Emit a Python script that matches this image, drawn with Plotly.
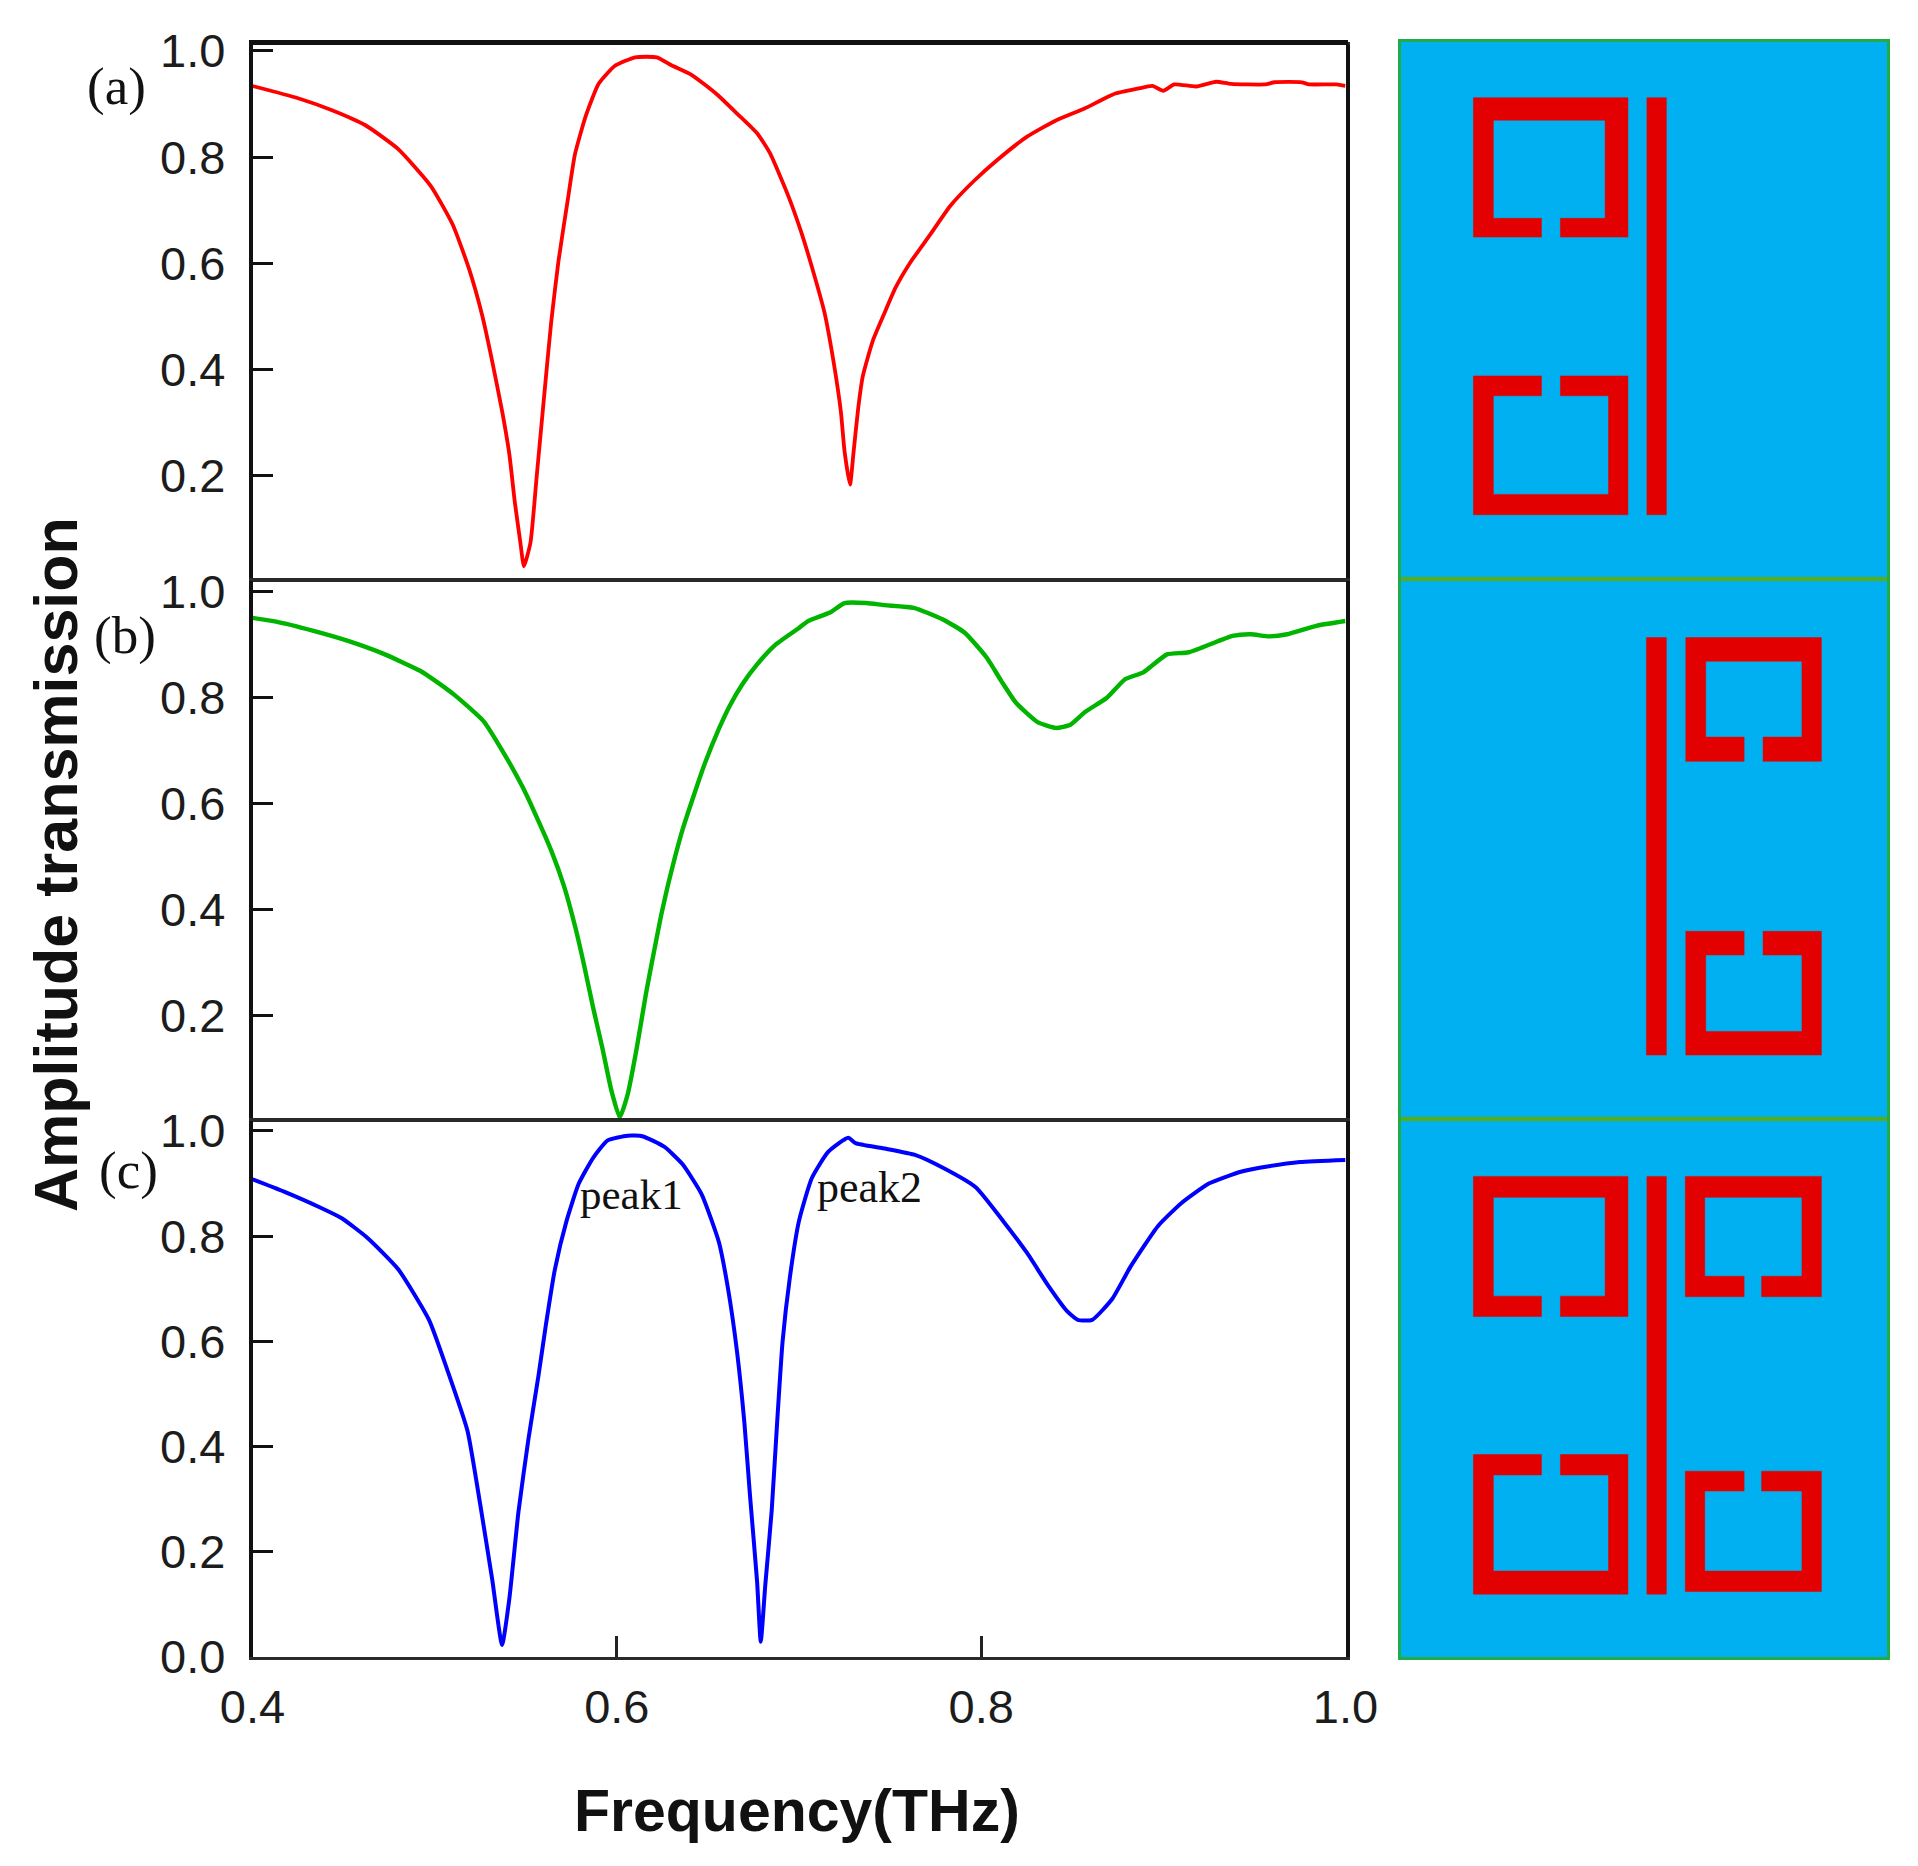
import plotly.graph_objects as go

# ---------- spectra ----------
freq_a = [.400,.425,.444,.462,.480,.498,.510,.519,.526,.531,.537,.541,.544,.547,.549,.5526,.556,.561,.564,.568,.573,.577,.583,.590,.599,.610,.622,.630,.641,.655,.666,.677,.684,.694,.701,.707,.714,.719,.723,.725,.728,.730,.7325,.735,.7405,.747,.753,.761,.772,.783,.796,.809,.825,.841,.857,.873,.886,.894,.900,.906,.918,.929,.937,.956,.961,.976,.980,.995,1.0]
trans_a = [.934,.911,.888,.860,.815,.745,.672,.588,.503,.425,.322,.240,.150,.075,.029,.074,.198,.383,.490,.605,.718,.805,.878,.938,.972,.988,.988,.973,.955,.918,.882,.845,.808,.728,.661,.594,.507,.414,.320,.246,.183,.246,.327,.387,.454,.507,.554,.601,.654,.708,.755,.795,.838,.869,.892,.919,.929,.934,.925,.937,.933,.942,.938,.937,.941,.941,.937,.937,.934]

freq_b = [.400,.413,.433,.452,.472,.492,.497,.511,.527,.538,.548,.555,.564,.571,.577,.582,.587,.592,.597,.6016,.606,.611,.616,.6205,.6244,.628,.632,.636,.642,.648,.656,.662,.669,.677,.687,.700,.705,.717,.725,.737,.747,.763,.779,.791,.803,.811,.819,.831,.841,.849,.857,.869,.879,.889,.902,.914,.938,.948,.958,.968,.984,1.0]
trans_b = [.951,.944,.927,.908,.883,.851,.840,.805,.755,.695,.633,.582,.511,.444,.369,.295,.214,.139,.058,.007,.051,.139,.241,.322,.390,.445,.500,.550,.613,.673,.741,.785,.826,.863,.900,.932,.945,.961,.979,.979,.975,.970,.948,.923,.876,.832,.791,.754,.743,.749,.773,.800,.835,.848,.882,.886,.917,.920,.916,.920,.936,.945]

freq_c = [.400,.417,.438,.449,.463,.480,.497,.507,.518,.525,.5316,.537,.541,.546,.5515,.557,.561,.566,.5724,.579,.587,.595,.606,.614,.626,.636,.6465,.656,.661,.666,.670,.673,.677,.679,.6815,.685,.688,.691,.695,.700,.707,.716,.727,.731,.746,.764,.779,.797,.812,.825,.837,.847,.853,.861,.872,.882,.897,.910,.925,.943,.958,.975,1.0]
trans_c = [.908,.885,.853,.834,.797,.737,.640,.545,.430,.290,.147,.023,.111,.276,.415,.535,.630,.737,.829,.899,.949,.982,.991,.990,.970,.937,.880,.789,.701,.580,.446,.311,.143,.029,.137,.278,.446,.600,.722,.829,.910,.960,.987,.977,.967,.954,.930,.893,.829,.769,.705,.658,.641,.641,.681,.742,.819,.863,.900,.923,.933,.941,.945]

x_ticks = [0.4, 0.6, 0.8, 1.0]
y_ticks_upper = [0.2, 0.4, 0.6, 0.8, 1.0]
y_ticks_lower = [0.0, 0.2, 0.4, 0.6, 0.8, 1.0]
panel_tags = ["(a)", "(b)", "(c)"]

# ---------- unit-cell sketches, in 0-1000 cell units ----------
# ring: x0, x1, y0, y1, inner x0, inner x1, inner y0, inner y1, gap x0, gap x1, gap side
rings_a = [(149,467,104,364,190,420,146,329,289,328,"bottom"),
           (149,467,623,882,190,427,660,844,289,328,"top")]
rings_b = [(586,865,107,337,627,825,151,292,706,745,"bottom"),
           (586,865,653,883,627,825,697,839,706,745,"top")]
rings_c = [(149,467,105,366,190,420,144,328,289,328,"bottom"),
           (149,467,623,883,190,427,661,840,289,328,"top"),
           (585,865,105,329,625,825,144,291,706,742,"bottom"),
           (585,865,654,878,625,825,691,840,706,742,"top")]
wire_a = (506,546,104,882)
wire_b = (505,546,107,883)
wire_c = (506,546,105,883)

W, H = 1918, 1866
PL, PR = 252.5, 1345.5
BOUNDS = [(45, 579), (581, 1119), (1121, 1657)]
SL, SR = 1401, 1887
SK_BOUNDS = [(42, 578), (580, 1118), (1120, 1657)]
Y_RANGES = [(0.0052, 1.0112), (0.0038, 1.0207), (0.0, 1.0189)]


def dom_x(a, b):
    return [a / W, b / W]


def dom_y(a, b):
    return [1 - b / H, 1 - a / H]


def ring_path(r):
    x0, x1, y0, y1, ix0, ix1, iy0, iy1, g0, g1, side = r
    if side == "bottom":
        xs = [g0, x0, x0, x1, x1, g1, g1, ix1, ix1, ix0, ix0, g0, g0]
        ys = [y1, y1, y0, y0, y1, y1, iy1, iy1, iy0, iy0, iy1, iy1, y1]
    else:
        xs = [g0, x0, x0, x1, x1, g1, g1, ix1, ix1, ix0, ix0, g0, g0]
        ys = [y0, y0, y1, y1, y0, y0, iy0, iy0, iy1, iy1, iy0, iy0, y0]
    return xs, ys


fig = go.Figure()
TICK_FONT = dict(family="Liberation Sans, Arial, sans-serif", size=47, color="#1c1c1c")
series = [(freq_a, trans_a, "#ff0000", 3.8), (freq_b, trans_b, "#00b400", 4.4), (freq_c, trans_c, "#0000ff", 4)]

for i, (fx, fy, col, lw) in enumerate(series):
    n = i + 1
    xn, yn = f"x{n}", f"y{n}"
    fig.add_trace(go.Scatter(x=fx, y=fy, mode="lines", line=dict(color=col, width=lw, shape="spline", smoothing=0.5),
                             xaxis=xn, yaxis=yn, showlegend=False, hoverinfo="skip"))
    last = i == 2
    fig.update_layout({
        f"xaxis{n}": dict(domain=dom_x(PL, PR), range=[0.4, 1.0], anchor=yn, automargin=False,
                          tickvals=x_ticks if last else [], ticktext=[f"{t:.1f}" for t in x_ticks] if last else [],
                          ticks="inside" if last else "", ticklen=21, tickwidth=3, tickcolor="#222",
                          showticklabels=last, tickfont=TICK_FONT, ticklabelstandoff=7,
                          showline=True, mirror=True, linecolor="#2a2a2a", linewidth=3, showgrid=False, zeroline=False),
        f"yaxis{n}": dict(domain=dom_y(*BOUNDS[i]), range=list(Y_RANGES[i]), anchor=xn, automargin=False,
                          tickvals=y_ticks_lower if last else y_ticks_upper,
                          ticktext=[f"{t:.1f}" for t in (y_ticks_lower if last else y_ticks_upper)],
                          ticks="inside", ticklen=21, tickwidth=3.2, tickcolor="#111",
                          tickfont=TICK_FONT, ticklabelstandoff=14,
                          showline=True, mirror=True, linecolor="#111", linewidth=3.5, showgrid=False, zeroline=False),
    })

# sketch panels
sketches = [(rings_a, wire_a), (rings_b, wire_b), (rings_c, wire_c)]
for i, (rings, wire) in enumerate(sketches):
    n = i + 4
    xn, yn = f"x{n}", f"y{n}"
    for r in rings:
        xs, ys = ring_path(r)
        fig.add_trace(go.Scatter(x=xs, y=ys, mode="lines", fill="toself", fillcolor="#e30000",
                                 line=dict(color="#e30000", width=0.5), xaxis=xn, yaxis=yn,
                                 showlegend=False, hoverinfo="skip"))
    wx0, wx1, wy0, wy1 = wire
    fig.add_trace(go.Scatter(x=[wx0, wx1, wx1, wx0, wx0], y=[wy0, wy0, wy1, wy1, wy0], mode="lines",
                             fill="toself", fillcolor="#e30000", line=dict(color="#e30000", width=0.5),
                             xaxis=xn, yaxis=yn, showlegend=False, hoverinfo="skip"))
    fig.update_layout({
        f"xaxis{n}": dict(domain=dom_x(SL, SR), range=[0, 1000], anchor=yn, showticklabels=False, automargin=False,
                          ticks="", showgrid=False, zeroline=False, showline=True, mirror=True,
                          linecolor="#20ad48", linewidth=2.5),
        f"yaxis{n}": dict(domain=dom_y(*SK_BOUNDS[i]), range=[1000, 0], anchor=xn, showticklabels=False, automargin=False,
                          ticks="", showgrid=False, zeroline=False, showline=True, mirror=True,
                          linecolor="#20ad48", linewidth=2.5),
    })

ann = []


def text(t, px, py, family, size, color="#111", bold=False, angle=0):
    ann.append(dict(text=f"<b>{t}</b>" if bold else t, x=px / W, y=1 - py / H, xref="paper", yref="paper",
                    showarrow=False, xanchor="center", yanchor="middle", textangle=angle,
                    font=dict(family=family, size=size, color=color)))


SERIF = "Liberation Serif, Times New Roman, serif"
SANS = "Liberation Sans, Arial, sans-serif"
text(panel_tags[0], 116, 87, SERIF, 53)
text(panel_tags[1], 125, 635, SERIF, 53)
text(panel_tags[2], 128, 1170, SERIF, 53)
text("peak1", 631, 1194, SERIF, 43)
text("peak2", 869, 1187, SERIF, 44)
text("Frequency(THz)", 797, 1811, SANS, 59, bold=True)
text("Amplitude transmission", 56, 865, SANS, 61, bold=True, angle=-90)

divider = dict(color="#58ad14", width=4)
fig.update_layout(width=W, height=H, margin=dict(l=0, r=0, t=0, b=0), autosize=False,
                  paper_bgcolor="white", plot_bgcolor="white", annotations=ann,
                  shapes=[dict(type="line", xref="paper", yref="paper", x0=249 / W, x1=1348 / W,
                               y0=1 - 42.5 / H, y1=1 - 42.5 / H, line=dict(color="#111", width=5)),
                          dict(type="line", xref="paper", yref="paper", x0=SL / W, x1=SR / W,
                               y0=1 - 579 / H, y1=1 - 579 / H, line=divider),
                          dict(type="line", xref="paper", yref="paper", x0=SL / W, x1=SR / W,
                               y0=1 - 1119 / H, y1=1 - 1119 / H, line=divider)])

# blue cell backgrounds behind the sketches
for n in (4, 5, 6):
    fig.add_shape(type="rect", xref=f"x{n}", yref=f"y{n}", x0=0, x1=1000, y0=0, y1=1000,
                  fillcolor="#00b0f0", line_width=0, layer="below")

fig.write_html("out.html", config={"displayModeBar": False}, post_script="document.body.style.margin='0';")
